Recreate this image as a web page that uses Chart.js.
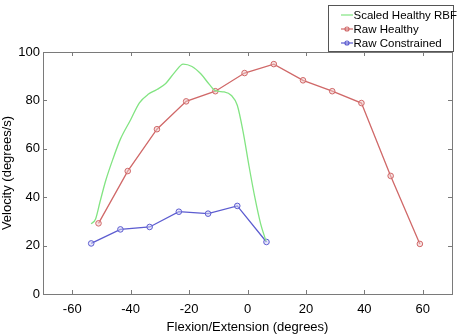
<!DOCTYPE html>
<html>
<head>
<meta charset="utf-8">
<script src="https://cdn.jsdelivr.net/npm/chart.js@4"></script>
<style>
  html, body { margin: 0; padding: 0; background: #fff; }
  #wrap { width: 459px; height: 335px; }
</style>
</head>
<body>
<div id="wrap"><canvas id="velocityChart" width="459" height="335"></canvas></div>
<script>
// values
const rbfX = [-53.5, -52, -50.5, -48.5, -46, -43.5, -40, -37, -34, -31, -28, -25, -22, -19, -16, -13, -11, -8, -5.5, -3.5, -1.5, 0.5, 2.5, 4.5, 6.3];
const rbfY = [29, 31, 38, 47, 56, 64, 72, 79, 82.5, 84.5, 87, 91.5, 95, 94, 91, 86.5, 84, 83.5, 82, 78, 67, 53, 40, 29, 22];

const healthyX = [-51, -41, -31, -21, -11, -1, 9, 19, 29, 39, 49, 59];
const healthyY = [29.2, 50.8, 68.1, 79.6, 83.8, 91.3, 95.0, 88.3, 83.8, 78.9, 48.8, 20.7];

const constrainedX = [-53.5, -43.5, -33.5, -23.5, -13.5, -3.5, 6.5];
const constrainedY = [20.9, 26.7, 27.7, 34.0, 33.2, 36.4, 21.5];

const xTicks = [-60, -40, -20, 0, 20, 40, 60];
const yTicks = [0, 20, 40, 60, 80, 100];

const seriesNames = ["Scaled Healthy RBF", "Raw Healthy", "Raw Constrained"];
const seriesColors = ["#82e482", "#d06868", "#5c5cd0"];

const toPoints = (xs, ys) => xs.map((x, i) => ({ x, y: ys[i] }));

const FONT = "'Liberation Sans', Arial, Helvetica, sans-serif";
const AXIS_GRAY = "#7a7a7a";

// MATLAB-style box with inward ticks and a boxed legend
const matlabFrame = {
  id: "matlabFrame",
  afterDraw(chart) {
    const { ctx, chartArea: a, scales } = chart;
    ctx.save();
    ctx.strokeStyle = AXIS_GRAY;
    ctx.lineWidth = 1;
    ctx.strokeRect(Math.round(a.left) + 0.5, Math.round(a.top) + 0.5,
      Math.round(a.right - a.left), Math.round(a.bottom - a.top));
    const tl = 4;
    ctx.beginPath();
    xTicks.forEach((v) => {
      const px = Math.round(scales.x.getPixelForValue(v)) + 0.5;
      ctx.moveTo(px, a.bottom); ctx.lineTo(px, a.bottom - tl);
      ctx.moveTo(px, a.top); ctx.lineTo(px, a.top + tl);
    });
    yTicks.forEach((v) => {
      const py = Math.round(scales.y.getPixelForValue(v)) + 0.5;
      ctx.moveTo(a.left, py); ctx.lineTo(a.left + tl, py);
      ctx.moveTo(a.right, py); ctx.lineTo(a.right - tl, py);
    });
    ctx.stroke();

    // legend
    const lx = 328.5, ly = 5.5, lw = 125, lh = 46;
    ctx.fillStyle = "#fff";
    ctx.fillRect(lx, ly, lw, lh);
    ctx.strokeStyle = "#555";
    ctx.strokeRect(lx, ly, lw, lh);
    ctx.font = "11.5px " + FONT;
    ctx.textBaseline = "middle";
    chart.data.datasets.forEach((ds, i) => {
      const cy = 15 + i * 14;
      ctx.strokeStyle = ds.borderColor;
      ctx.lineWidth = 1.2;
      ctx.beginPath();
      ctx.moveTo(341, cy); ctx.lineTo(353, cy);
      ctx.stroke();
      if (ds.pointRadius > 0) {
        ctx.beginPath();
        ctx.arc(347, cy, 2, 0, Math.PI * 2);
        ctx.stroke();
      }
      ctx.fillStyle = "#000";
      ctx.fillText(ds.label, 353.5, cy + 1);
    });
    ctx.restore();
  },
};

new Chart(document.getElementById("velocityChart"), {
  type: "line",

  data: {
    datasets: [
      {
        label: seriesNames[0],
        data: toPoints(rbfX, rbfY),
        borderColor: seriesColors[0],
        borderWidth: 1.3,
        pointRadius: 0,
        tension: 0.4,
        cubicInterpolationMode: "monotone",
      },
      {
        label: seriesNames[1],
        data: toPoints(healthyX, healthyY),
        borderColor: seriesColors[1],
        borderWidth: 1.3,
        pointRadius: 2.8,
        pointBorderWidth: 1,
        pointBackgroundColor: "rgba(240,200,200,0.5)",
        pointBorderColor: seriesColors[1],
        tension: 0,
      },
      {
        label: seriesNames[2],
        data: toPoints(constrainedX, constrainedY),
        borderColor: seriesColors[2],
        borderWidth: 1.3,
        pointRadius: 2.8,
        pointBorderWidth: 1,
        pointBackgroundColor: "rgba(210,210,245,0.5)",
        pointBorderColor: seriesColors[2],
        tension: 0,
      },
    ],
  },

  options: {
    responsive: false,
    animation: false,
    layout: { padding: { left: 0, top: 52, right: 7, bottom: 0 } },

    plugins: {
      legend: { display: false },
      tooltip: { enabled: false },
    },

    scales: {
      x: {
        type: "linear",
        min: -70,
        max: 70,
        afterBuildTicks: (s) => { s.ticks = xTicks.map((v) => ({ value: v })); },
        afterFit: (s) => { s.height = 41; },
        grid: { display: false, drawTicks: false },
        border: { display: false },
        ticks: { color: "#000", padding: 8, maxRotation: 0, font: { family: FONT, size: 13 } },
        title: {
          display: true,
          text: "Flexion/Extension (degrees)",
          color: "#000",
          padding: { top: 2, bottom: 0 },
          font: { family: FONT, size: 13 },
        },
      },
      y: {
        min: 0,
        max: 100,
        afterBuildTicks: (s) => { s.ticks = yTicks.map((v) => ({ value: v })); },
        afterFit: (s) => { s.width = 43; },
        grid: { display: false, drawTicks: false },
        border: { display: false },
        ticks: { color: "#000", padding: 3, font: { family: FONT, size: 13 } },
        title: {
          display: true,
          text: "Velocity (degrees/s)",
          color: "#000",
          padding: { top: 0, bottom: 4 },
          font: { family: FONT, size: 13 },
        },
      },
    },
  },

  plugins: [matlabFrame],
});
</script>
</body>
</html>
